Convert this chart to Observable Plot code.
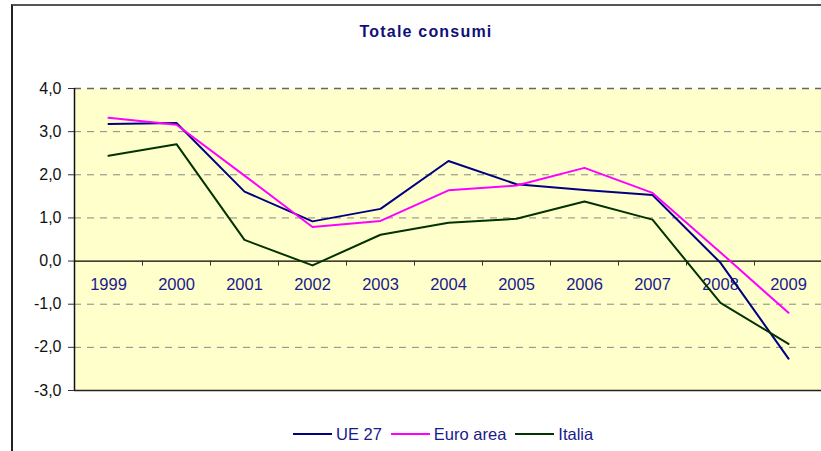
<!DOCTYPE html>
<html>
<head>
<meta charset="utf-8">
<script src="https://cdn.jsdelivr.net/npm/d3@7"></script>
<script src="https://cdn.jsdelivr.net/npm/@observablehq/plot@0.6"></script>
<style>
  html, body { margin: 0; padding: 0; background: #fff; overflow: hidden; }
  #wrap { position: relative; width: 821px; height: 451px; overflow: hidden; font-family: Arial, "Liberation Sans", sans-serif; }
  #border { position: absolute; left: 11px; top: 4px; width: 900px; height: 600px; border-left: 2px solid #222; border-top: 2px solid #555; box-sizing: border-box; }
  #chart { position: absolute; left: 0; top: 0; }
  #title { position: absolute; left: 0; width: 852px; top: 22px; line-height: 20px; text-align: center; font-weight: bold; font-size: 16px; letter-spacing: 1.2px; color: #10107a; }
  #legend { position: absolute; left: 293px; top: 425px; height: 18px; display: flex; align-items: center; font-size: 16.5px; color: #1a1a8a; }
  .item { display: flex; align-items: center; margin-right: 9px; }
  .sw { width: 39px; height: 2px; margin-right: 4px; }
</style>
</head>
<body>
<div id="wrap">
  <div id="border"></div>
  <div id="chart"></div>
  <div id="title">Totale consumi</div>
  <div id="legend"></div>
</div>
<script>
const years = ["1999","2000","2001","2002","2003","2004","2005","2006","2007","2008","2009"];
const ue27 = [3.18, 3.20, 1.61, 0.92, 1.21, 2.32, 1.78, 1.65, 1.53, -0.04, -2.26];
const euroArea = [3.32, 3.16, 1.98, 0.79, 0.93, 1.64, 1.75, 2.16, 1.58, 0.20, -1.20];
const italia = [2.44, 2.71, 0.49, -0.10, 0.61, 0.89, 0.98, 1.38, 0.96, -0.97, -1.92];
const seriesNames = ["UE 27", "Euro area", "Italia"];
const seriesColors = ["#000080", "#FF00FF", "#003300"];
const yTicks = [-3, -2, -1, 0, 1, 2, 3, 4];

const seriesValues = [ue27, euroArea, italia];
const rows = [];
seriesNames.forEach((name, s) => {
  years.forEach((yr, i) => rows.push({series: name, i, year: yr, value: seriesValues[s][i]}));
});
const boundaries = d3.range(years.length + 1).map(i => i - 0.5);
const fmt = d => d.toFixed(1).replace(".", ",");

const plot = Plot.plot({
  width: 821,
  height: 451,
  marginLeft: 74,
  marginRight: -1,
  marginTop: 88,
  marginBottom: 61,
  style: {background: "transparent", fontFamily: "Arial, 'Liberation Sans', sans-serif"},
  x: {type: "linear", domain: [-0.5, years.length - 0.5], axis: null},
  y: {domain: [-3, 4], axis: null},
  color: {domain: seriesNames, range: seriesColors},
  marks: [
    Plot.frame({fill: "#FFFFCC", stroke: "none"}),
    Plot.ruleY(yTicks.filter(v => v !== 0 && v !== -3 && v !== 4), {y: d => d, stroke: "#888", strokeWidth: 1, strokeDasharray: "7,6"}),
    Plot.ruleY([4], {y: d => d, stroke: "#666", strokeWidth: 1.5, strokeDasharray: "7,6"}),
    Plot.ruleY([-3], {y: d => d, stroke: "#222", strokeWidth: 1.5}),
    Plot.ruleY([0], {y: d => d, stroke: "#000", strokeWidth: 1.2}),
    Plot.ruleX(boundaries.slice(1), {x: d => d, y1: 0, y2: 0, insetBottom: -5, stroke: "#333", strokeWidth: 1}),
    Plot.axisY({ticks: yTicks, tickFormat: fmt, tickSize: 6, tickPadding: 7, fontSize: 16, label: null, stroke: "#333", fill: "#111", style: {letterSpacing: "0.6px"}}),
    Plot.ruleX([-0.5], {x: d => d, stroke: "#111", strokeWidth: 1.5}),
    Plot.text(years, {x: (d, i) => i, y: 0, text: d => d, dy: 24, fontSize: 16.5, fill: "#1a1a8c"}),
    Plot.line(rows, {x: "i", y: "value", z: "series", stroke: "series", strokeWidth: 2})
  ]
});
document.getElementById("chart").appendChild(plot);

const legend = document.getElementById("legend");
seriesNames.forEach((name, s) => {
  const item = document.createElement("div");
  item.className = "item";
  const sw = document.createElement("span");
  sw.className = "sw";
  sw.style.background = seriesColors[s];
  const label = document.createElement("span");
  label.textContent = name;
  item.appendChild(sw);
  item.appendChild(label);
  legend.appendChild(item);
});
</script>
</body>
</html>
